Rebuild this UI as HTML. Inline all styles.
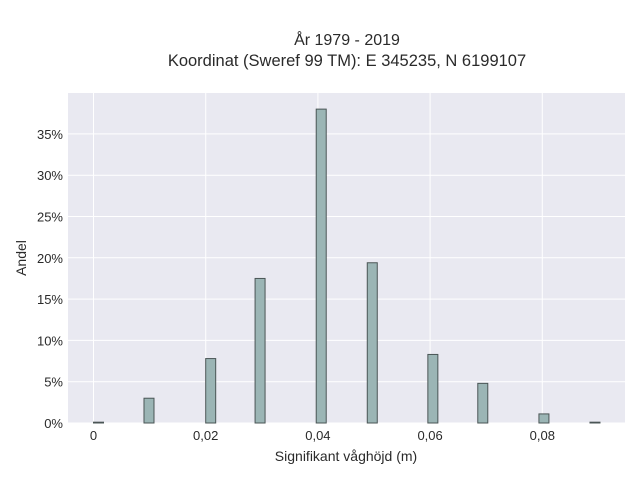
<!DOCTYPE html>
<html><head><meta charset="utf-8"><style>
body{margin:0;background:#fff;font-family:"Liberation Sans",sans-serif;}
text{font-family:"Liberation Sans",sans-serif;fill:#2a2a2a;}
</style></head><body>
<svg id="chart" width="640" height="480" xmlns="http://www.w3.org/2000/svg">
<rect x="0" y="0" width="640" height="480" fill="#fff"/>
<text x="347" y="45" text-anchor="middle" font-size="16">År 1979 - 2019</text>
<text x="347" y="66" text-anchor="middle" font-size="16.5">Koordinat (Sweref 99 TM): E 345235, N 6199107</text>
<rect x="68" y="93" width="557" height="330" fill="#e9e9f1"/>
<g id="grid"></g>
<g id="bars"></g>
<g id="ticks"></g>
<text x="346" y="461" text-anchor="middle" font-size="14">Signifikant våghöjd (m)</text>
<text x="26" y="258" text-anchor="middle" font-size="14" transform="rotate(-90 26 258)">Andel</text>
</svg>
<script>
const binStarts=[0,0.0090,0.0200,0.0288,0.0397,0.0488,0.0596,0.0685,0.0794,0.0885];
const shares=[0.1,3.0,7.8,17.5,38.0,19.4,8.3,4.8,1.1,0.1];
const xTicks=[0,0.02,0.04,0.06,0.08];
const xTickLabels=["0","0,02","0,04","0,06","0,08"];
const yTicks=[0,5,10,15,20,25,30,35];
const yTickLabels=["0%","5%","10%","15%","20%","25%","30%","35%"];
const NS="http://www.w3.org/2000/svg";
const xs=v=>93.5+v*5610;
const ys=v=>423-v*8.26;
const grid=document.getElementById('grid'),bars=document.getElementById('bars'),ticks=document.getElementById('ticks');
function mk(tag,attrs,parent){const e=document.createElementNS(NS,tag);for(const k in attrs)e.setAttribute(k,attrs[k]);parent.appendChild(e);return e;}
yTicks.forEach((t,i)=>{
  const l=mk('line',{x1:68,x2:625,y1:ys(t),y2:ys(t),stroke:'#fff','stroke-width':1},grid);
  
  
  const tx=mk('text',{x:63,y:ys(t)+5,'text-anchor':'end','font-size':13},ticks);
  tx.textContent=yTickLabels[i];
  
  
});
xTicks.forEach((t,i)=>{
  const l=mk('line',{x1:xs(t),x2:xs(t),y1:93,y2:423,stroke:'#fff','stroke-width':1},grid);
  
  
  const tx=mk('text',{x:xs(t),y:440,'text-anchor':'middle','font-size':13},ticks);
  tx.textContent=xTickLabels[i];
  
  
});
binStarts.forEach((c,i)=>{
  const y=ys(shares[i]);
  const b=mk('rect',{x:xs(c),y:y,width:10,height:Math.max(423-y,0.5),fill:'#9bb5b5',stroke:'#4a5555','stroke-width':1},bars);
  
  
});
</script>
</body></html>
